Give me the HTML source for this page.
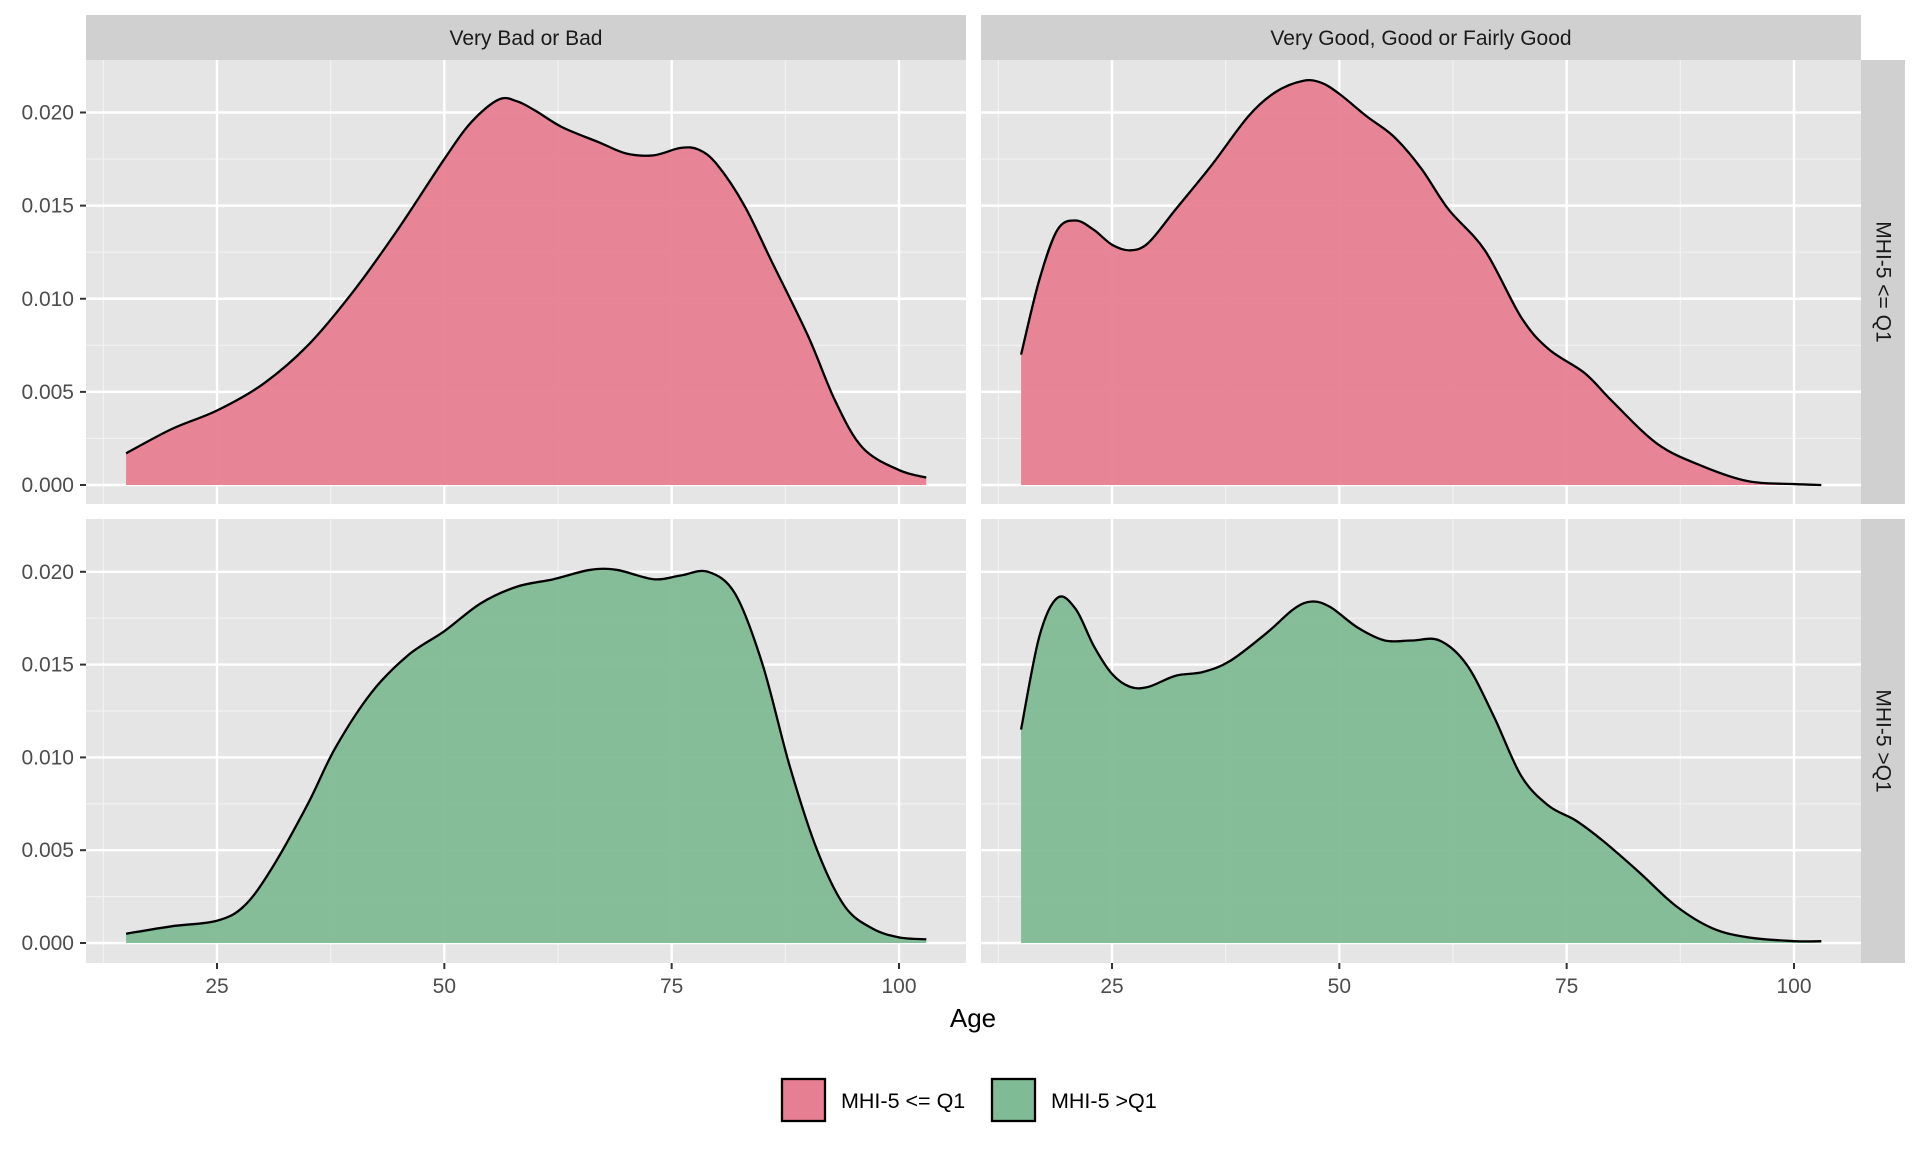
<!DOCTYPE html>
<html><head><meta charset="utf-8"><style>
html,body{margin:0;padding:0;background:#fff;}
svg{display:block;font-family:"Liberation Sans",Arial,sans-serif;}
</style></head><body>
<svg id="chart" width="1920" height="1152" viewBox="0 0 1920 1152"></svg>
<script>
const ages1=[15,20,25,30,35,40,45,50,53,56,58,60,63,67,70,73,76,78,80,83,86,90,93,96,100,103];
const dens1=[0.0017,0.0030,0.0040,0.0054,0.0075,0.0104,0.0138,0.0175,0.0195,0.0207,0.0206,0.0201,0.0192,0.0184,0.0178,0.0177,0.0181,0.0180,0.0172,0.0150,0.0120,0.0080,0.0045,0.0020,0.0008,0.0004];
const ages2=[15,17,19,21,23,25,27,29,32,36,40,43,46,48,50,53,56,59,62,66,70,73,77,80,85,90,95,100,103];
const dens2=[0.0070,0.0110,0.0137,0.0142,0.0137,0.0129,0.0126,0.0130,0.0148,0.0172,0.0198,0.0211,0.0217,0.0216,0.0210,0.0198,0.0187,0.0170,0.0148,0.0126,0.0090,0.0073,0.0060,0.0045,0.0022,0.0010,0.0002,0.00005,0.0];
const ages3=[15,20,25,28,31,35,38,42,46,50,54,58,62,66,69,73,76,79,82,85,88,91,94,97,100,103];
const dens3=[0.0005,0.0009,0.0012,0.0020,0.0040,0.0075,0.0105,0.0135,0.0155,0.0168,0.0183,0.0192,0.0196,0.0201,0.0201,0.0196,0.0198,0.0200,0.0188,0.0150,0.0095,0.0050,0.0020,0.0008,0.0003,0.0002];
const ages4=[15,17,19,21,23,25,27,29,32,35,38,42,45,47,49,52,55,58,61,64,67,70,73,76,79,83,87,91,95,100,103];
const dens4=[0.0115,0.0165,0.0186,0.0180,0.0160,0.0145,0.0138,0.0138,0.0144,0.0146,0.0152,0.0167,0.0180,0.0184,0.0181,0.0170,0.0163,0.0163,0.0163,0.0150,0.0122,0.0090,0.0074,0.0066,0.0055,0.0038,0.0020,0.0008,0.0003,0.0001,0.0001];
const xTicks=[25,50,75,100];
const yTicks=[0,0.005,0.010,0.015,0.020];
const yTickLabels=["0.000","0.005","0.010","0.015","0.020"];
const colTitles=["Very Bad or Bad","Very Good, Good or Fairly Good"];
const rowTitles=["MHI-5 <= Q1","MHI-5 >Q1"];
const legendLabels=["MHI-5 <= Q1","MHI-5 >Q1"];
const fills=["#e77f92","#7fbb95"];

const NS="http://www.w3.org/2000/svg";
const svg=document.getElementById('chart');
function el(tag,attrs,parent){const e=document.createElementNS(NS,tag);for(const k in attrs)e.setAttribute(k,attrs[k]);(parent||svg).appendChild(e);return e;}

const cols=[{x0:86,x1:966},{x0:981,x1:1861}];
const rows=[{y0:60,y1:504},{y0:519,y1:963}];
function xScale(c,a){const off=cols[c].x0-86;return off+217+(a-25)*(899-217)/75;}
function yScale(r,v){return r===0?485-v*(485-112.5)/0.02:943-v*(943-571.8)/0.02;}
const series=[[ages1,dens1,0,0],[ages2,dens2,0,1],[ages3,dens3,1,0],[ages4,dens4,1,1]];

function smooth(pts){let d='M'+pts[0][0].toFixed(2)+','+pts[0][1].toFixed(2);
 for(let i=0;i<pts.length-1;i++){const p0=pts[Math.max(0,i-1)],p1=pts[i],p2=pts[i+1],p3=pts[Math.min(pts.length-1,i+2)];
  const c1=[p1[0]+(p2[0]-p0[0])/6,p1[1]+(p2[1]-p0[1])/6],c2=[p2[0]-(p3[0]-p1[0])/6,p2[1]-(p3[1]-p1[1])/6];
  d+=' C'+c1[0].toFixed(2)+','+c1[1].toFixed(2)+' '+c2[0].toFixed(2)+','+c2[1].toFixed(2)+' '+p2[0].toFixed(2)+','+p2[1].toFixed(2);}
 return d;}

for(let r=0;r<2;r++)for(let c=0;c<2;c++){
 const g=el('g',{});
 
 
 const X0=cols[c].x0,X1=cols[c].x1,Y0=rows[r].y0,Y1=rows[r].y1;
 el('rect',{x:X0,y:Y0,width:X1-X0,height:Y1-Y0,fill:'#e5e5e5'},g);
 for(let i=0;i<yTicks.length-1;i++){const y=yScale(r,(yTicks[i]+yTicks[i+1])/2);el('line',{x1:X0,x2:X1,y1:y,y2:y,stroke:'#f2f2f2','stroke-width':1.2},g);}
 const xm=[12.5,37.5,62.5,87.5];
 xm.forEach(a=>{const x=xScale(c,a);el('line',{x1:x,x2:x,y1:Y0,y2:Y1,stroke:'#f2f2f2','stroke-width':1.2},g);});
 yTicks.forEach(v=>{const y=yScale(r,v);el('line',{x1:X0,x2:X1,y1:y,y2:y,stroke:'#fff','stroke-width':2.4},g);});
 xTicks.forEach(a=>{const x=xScale(c,a);el('line',{x1:x,x2:x,y1:Y0,y2:Y1,stroke:'#fff','stroke-width':2.4},g);});
}
series.forEach(([ages,dens,r,c],i)=>{
 const pts=ages.map((a,k)=>[xScale(c,a),yScale(r,dens[k])]);
 const line=smooth(pts);
 const base=yScale(r,0);
 const area=el('path',{d:line+' L'+pts[pts.length-1][0]+','+base+' L'+pts[0][0]+','+base+' Z',fill:fills[r],'fill-opacity':0.95});
 
 
 const ln=el('path',{d:line,fill:'none',stroke:'#000','stroke-width':2.3});
 
 
});
colTitles.forEach((t,c)=>{
 el('rect',{x:cols[c].x0,y:15,width:cols[c].x1-cols[c].x0,height:45,fill:'#d0d0d0'});
 const tx=el('text',{x:(cols[c].x0+cols[c].x1)/2,y:45,'text-anchor':'middle','font-size':21,fill:'#1a1a1a'});
 tx.textContent=t;
 
 
});
rowTitles.forEach((t,r)=>{
 el('rect',{x:1861,y:rows[r].y0,width:44,height:rows[r].y1-rows[r].y0,fill:'#d0d0d0'});
 const cy=(rows[r].y0+rows[r].y1)/2;
 const tx=el('text',{x:1883,y:cy,'text-anchor':'middle','font-size':21,fill:'#1a1a1a',transform:'rotate(90 1883 '+cy+')','dominant-baseline':'central'});
 tx.textContent=t;
 
 
});
for(let r=0;r<2;r++){yTicks.forEach((v,i)=>{const y=yScale(r,v);
 el('line',{x1:80,x2:86,y1:y,y2:y,stroke:'#333','stroke-width':2});
 const tx=el('text',{x:74,y:y+7,'text-anchor':'end','font-size':21,fill:'#4d4d4d'});
 tx.textContent=yTickLabels[i];
 
 
});}
for(let c=0;c<2;c++){xTicks.forEach(a=>{const x=xScale(c,a);
 el('line',{x1:x,x2:x,y1:963,y2:969,stroke:'#333','stroke-width':2});
 const tx=el('text',{x:x,y:993,'text-anchor':'middle','font-size':21,fill:'#4d4d4d'});
 tx.textContent=a;
 
 
});}
const xt=el('text',{x:973,y:1027,'text-anchor':'middle','font-size':26,fill:'#000'});
xt.textContent='Age';


const lx=[782,992];
legendLabels.forEach((t,i)=>{
 const g=el('g',{});
 
 
 el('rect',{x:lx[i],y:1079,width:43,height:42,fill:fills[i],stroke:'#000','stroke-width':2.3},g);
 const tx=el('text',{x:lx[i]+59,y:1108,'font-size':21.5,fill:'#000'},g);
 tx.textContent=t;
});
</script>
</body></html>
